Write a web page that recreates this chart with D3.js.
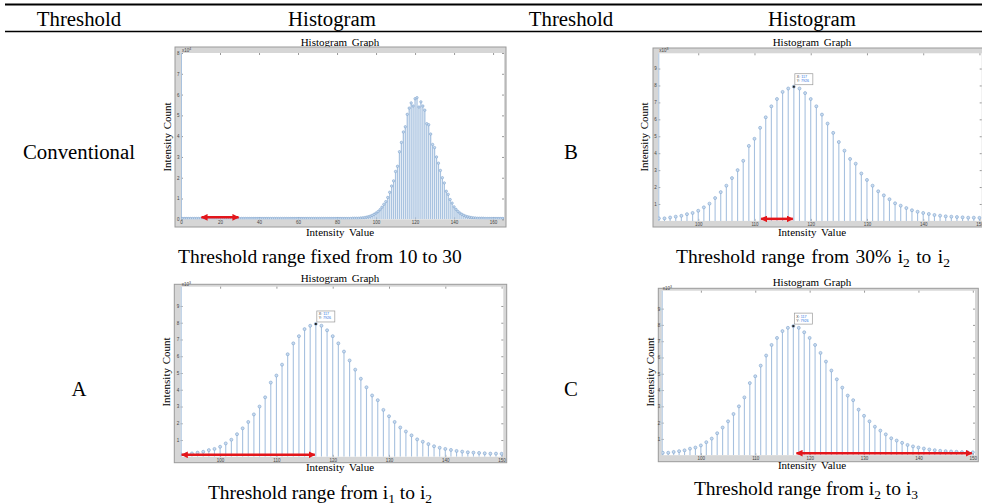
<!DOCTYPE html>
<html>
<head>
<meta charset="utf-8">
<script src="https://cdn.jsdelivr.net/npm/d3@7"></script>
<style>
  body { margin: 0; background: #fff; }
  svg { display: block; font-family: "Liberation Serif", "Times New Roman", serif; }
</style>
</head>
<body>
<svg width="982" height="504"></svg>
<script>
// table text
const headers = ['Threshold', 'Histogram', 'Threshold', 'Histogram'];
const rowLabels = ['Conventional', 'B', 'A', 'C'];

// full histogram (conventional), counts x10^4, bins 0..166
const convStart = 0;
const convCounts = [
  0.04, 0.04, 0.04, 0.04, 0.04, 0.04, 0.04, 0.04, 0.04, 0.04,
  0.04, 0.04, 0.04, 0.04, 0.04, 0.04, 0.04, 0.04, 0.04, 0.04,
  0.04, 0.04, 0.04, 0.04, 0.04, 0.04, 0.04, 0.04, 0.04, 0.04,
  0.04, 0.04, 0.04, 0.04, 0.04, 0.04, 0.04, 0.04, 0.04, 0.04,
  0.04, 0.04, 0.04, 0.04, 0.04, 0.04, 0.04, 0.04, 0.04, 0.04,
  0.04, 0.04, 0.04, 0.04, 0.04, 0.04, 0.04, 0.04, 0.04, 0.04,
  0.04, 0.04, 0.04, 0.04, 0.04, 0.04, 0.04, 0.04, 0.04, 0.04,
  0.04, 0.04, 0.04, 0.04, 0.04, 0.04, 0.04, 0.04, 0.04, 0.04,
  0.04, 0.04, 0.04, 0.04, 0.04, 0.04, 0.04, 0.04, 0.05, 0.05,
  0.05, 0.05, 0.06, 0.07, 0.08, 0.1, 0.12, 0.15, 0.19, 0.24,
  0.3, 0.37, 0.46, 0.58, 0.72, 0.85, 1.05, 1.3, 1.6, 1.85,
  2.3, 2.55, 3.25, 3.7, 4.2, 4.45, 5.05, 5.35, 5.6, 5.45,
  5.8, 5.85, 5.4, 5.65, 5.45, 5.25, 4.6, 4.55, 4.1, 3.6,
  3.45, 3.0, 2.7, 2.35, 2.0, 1.75, 1.35, 1.2, 0.95, 0.78,
  0.6, 0.48, 0.38, 0.3, 0.24, 0.19, 0.15, 0.12, 0.1, 0.08,
  0.07, 0.06, 0.05, 0.05, 0.05, 0.05, 0.04, 0.04, 0.04, 0.04,
  0.04, 0.04, 0.04, 0.04, 0.04, 0.04, 0.04
];
const convXTicks = [0, 20, 40, 60, 80, 100, 120, 140, 160];
const convYTicks = [0, 1, 2, 3, 4, 5, 6, 7, 8];

// zoomed histogram (A, B, C), counts x10^3, bins 93..150
const zoomStart = 93;
const zoomCounts = [
  0.15, 0.15, 0.2, 0.25, 0.3, 0.4, 0.47, 0.6, 0.8, 1.02,
  1.35, 1.7, 2.08, 2.53, 3.0, 3.55, 4.43, 4.85, 5.5, 6.12,
  6.77, 7.2, 7.62, 7.82, 7.93, 7.82, 7.55, 7.2, 6.77, 6.28,
  5.75, 5.2, 4.66, 4.15, 3.66, 3.38, 2.8, 2.42, 2.08, 1.75,
  1.51, 1.28, 1.04, 0.9, 0.76, 0.63, 0.54, 0.47, 0.41, 0.35,
  0.31, 0.27, 0.25, 0.23, 0.21, 0.19, 0.19, 0.18
];
const zoomXTicks = [100, 110, 120, 130, 140, 150];
const zoomYTicks = [1, 2, 3, 4, 5, 6, 7, 8, 9];
const tipX = 117;
const tipY = 7926;

// threshold ranges (red arrows)
const rangeConv = [10, 30];
const rangeB = [111, 117];
const rangeA = [93, 117];
const rangeC = [117.4, 150];

const captions = [
  [{ t: 'Threshold range fixed from 10 to 30' }],
  [{ t: 'Threshold range from 30% i' }, { t: '2', sub: true }, { t: ' to i' }, { t: '2', sub: true }],
  [{ t: 'Threshold range from i' }, { t: '1', sub: true }, { t: ' to i' }, { t: '2', sub: true }],
  [{ t: 'Threshold range from i' }, { t: '2', sub: true }, { t: ' to i' }, { t: '3', sub: true }],
];

const convData = convCounts.map((v, i) => ({ x: convStart + i, y: v }));
const zoomData = zoomCounts.map((v, i) => ({ x: zoomStart + i, y: v }));

const panels = [
  { id: 'p1', data: convData, xd: [0, 165.6], ymax: 8, xt: convXTicks, yt: convYTicks, exp: '4',
    frame: [175, 47, 331, 180], plot: [181, 53, 323, 166.3], range: rangeConv, dense: true,
    title: [340, 46], ylab: [171, 137], xlab: [340, 236] },
  { id: 'pB', data: zoomData, xd: [92.9, 150.4], ymax: 9.9, xt: zoomXTicks, yt: zoomYTicks, exp: '3',
    frame: [653, 48, 331, 179], plot: [658.3, 53.3, 323.4, 167.6], range: rangeB, tip: true,
    title: [812, 46], ylab: [648, 137], xlab: [812, 236] },
  { id: 'pA', data: zoomData, xd: [93.0, 150.3], ymax: 10.15, xt: zoomXTicks, yt: zoomYTicks, exp: '3',
    frame: [174.3, 284.3, 332.4, 178.4], plot: [180.7, 286.7, 322.6, 170.1], range: rangeA, tip: true,
    title: [340, 282], ylab: [170, 372], xlab: [340, 471] },
  { id: 'pC', data: zoomData, xd: [92.8, 150.4], ymax: 10.1, xt: zoomXTicks, yt: zoomYTicks, exp: '3',
    frame: [658.3, 288.3, 320, 173.4], plot: [661.7, 290.7, 313.3, 164.5], range: rangeC, tip: true,
    title: [812, 286], ylab: [654, 372], xlab: [812, 469] },
];

const svg = d3.select('svg');

const defs = svg.append('defs');
defs.append('marker')
  .attr('id', 'arrow')
  .attr('viewBox', '0 0 10 10')
  .attr('refX', 9)
  .attr('refY', 5)
  .attr('markerWidth', 2.6)
  .attr('markerHeight', 2.6)
  .attr('orient', 'auto-start-reverse')
  .append('path')
  .attr('d', 'M0,0 L10,5 L0,10 z')
  .attr('fill', '#e3161b');

// table rules
svg.append('line').attr('x1', 5).attr('x2', 982).attr('y1', 4.5).attr('y2', 4.5)
  .attr('stroke', '#000').attr('stroke-width', 2);
svg.append('line').attr('x1', 5).attr('x2', 982).attr('y1', 31.5).attr('y2', 31.5)
  .attr('stroke', '#000').attr('stroke-width', 1.5);

const headerX = [79, 332, 571, 812];
svg.selectAll('.hdr')
  .data(headers)
  .enter()
  .append('text')
  .classed('hdr', true)
  .attr('x', (d, i) => headerX[i])
  .attr('y', 26)
  .attr('text-anchor', 'middle')
  .attr('font-size', 20.8)
  .text((d) => d);

const labelPos = [[79, 159], [571, 159], [79, 396], [571, 396]];
svg.selectAll('.rowlab')
  .data(rowLabels)
  .enter()
  .append('text')
  .classed('rowlab', true)
  .attr('x', (d, i) => labelPos[i][0])
  .attr('y', (d, i) => labelPos[i][1])
  .attr('text-anchor', 'middle')
  .attr('font-size', 20.8)
  .text((d) => d);

const capPos = [[320, 263], [813, 263], [320, 499], [806, 495]];
const capSpacing = [0, 1.5, 0, 0];
captions.forEach((parts, i) => {
  const t = svg.append('text')
    .attr('x', capPos[i][0])
    .attr('y', capPos[i][1])
    .attr('text-anchor', 'middle')
    .attr('font-size', 19.5)
    .attr('word-spacing', capSpacing[i]);
  parts.forEach((p) => {
    const s = t.append('tspan').text(p.t);
    if (p.sub) s.attr('baseline-shift', '-25%').attr('font-size', 13.5);
  });
});

panels.forEach((p) => {
  const [fx, fy, fw, fh] = p.frame;
  const [px, py, pw, ph] = p.plot;
  const x = d3.scaleLinear().domain(p.xd).range([px, px + pw]);
  const y = d3.scaleLinear().domain([0, p.ymax]).range([py + ph, py]);
  const g = svg.append('g');

  g.append('text')
    .attr('x', p.title[0]).attr('y', p.title[1])
    .attr('text-anchor', 'middle').attr('font-size', 11)
    .attr('word-spacing', 2)
    .text('Histogram Graph');

  g.append('rect')
    .attr('x', fx).attr('y', fy).attr('width', fw).attr('height', fh)
    .attr('fill', '#d6d6d6').attr('stroke', '#9a9a9a').attr('stroke-width', 1);
  g.append('rect')
    .attr('x', px).attr('y', py).attr('width', pw).attr('height', ph)
    .attr('fill', '#fff');

  defs.append('clipPath').attr('id', 'clip-' + p.id)
    .append('rect').attr('x', px).attr('y', py).attr('width', pw).attr('height', ph);

  const axisStyle = (sel) => {
    sel.select('.domain').remove();
    sel.selectAll('line').attr('stroke', '#555').attr('stroke-width', 0.6);
    sel.selectAll('text').attr('fill', '#444').attr('font-size', 4.5)
      .attr('font-family', 'Liberation Sans, Arial, sans-serif');
  };
  g.append('g').attr('transform', `translate(0,${py + ph})`)
    .call(d3.axisBottom(x).tickValues(p.xt).tickSize(-2).tickPadding(2))
    .call(axisStyle);
  g.append('g').attr('transform', `translate(0,${py})`)
    .call(d3.axisTop(x).tickValues(p.xt).tickSize(-2).tickFormat(''))
    .call(axisStyle);
  g.append('g').attr('transform', `translate(${px},0)`)
    .call(d3.axisLeft(y).tickValues(p.yt).tickSize(-2).tickPadding(1.5))
    .call(axisStyle);
  g.append('g').attr('transform', `translate(${px + pw},0)`)
    .call(d3.axisRight(y).tickValues(p.yt).tickSize(-2).tickFormat(''))
    .call(axisStyle);

  const ex = g.append('text')
    .attr('x', px + 1).attr('y', py - 1)
    .attr('font-size', 4.5).attr('fill', '#444')
    .attr('font-family', 'Liberation Sans, Arial, sans-serif')
    .text('x10');
  ex.append('tspan').attr('baseline-shift', '40%').attr('font-size', 3.5).text(p.exp);

  // left axis line of the plot box
  g.append('line')
    .attr('x1', px + 0.5).attr('x2', px + 0.5).attr('y1', py).attr('y2', py + ph)
    .attr('stroke', '#a9c2de').attr('stroke-width', 1);

  const plot = g.append('g').attr('clip-path', `url(#clip-${p.id})`);

  plot.selectAll('.stem')
    .data(p.data)
    .enter()
    .append('line')
    .classed('stem', true)
    .attr('x1', (d) => x(d.x))
    .attr('x2', (d) => x(d.x))
    .attr('y1', y(0))
    .attr('y2', (d) => y(d.y))
    .attr('stroke', p.dense ? '#a9c3e0' : '#a7c1df')
    .attr('stroke-width', p.dense ? 1.3 : 1.1);

  plot.selectAll('.mark')
    .data(p.data)
    .enter()
    .append('circle')
    .classed('mark', true)
    .attr('cx', (d) => x(d.x))
    .attr('cy', (d) => y(d.y))
    .attr('r', p.dense ? 1.2 : 1.5)
    .attr('fill', '#c9dbef')
    .attr('stroke', '#7ea3cc')
    .attr('stroke-width', 0.6);

  if (p.tip) {
    const tx = x(tipX);
    const ty = y(tipY / 1000);
    g.append('rect').attr('x', tx - 1).attr('y', ty - 1).attr('width', 2).attr('height', 2)
      .attr('fill', '#222');
    g.append('rect').attr('x', tx + 1).attr('y', ty - 13).attr('width', 18).attr('height', 11)
      .attr('fill', '#fff').attr('stroke', '#9a9a9a').attr('stroke-width', 0.7);
    const tt = g.append('text').attr('font-size', 3.6)
      .attr('font-family', 'Liberation Sans, Arial, sans-serif');
    tt.append('tspan').attr('x', tx + 3).attr('y', ty - 8.5).attr('fill', '#333').text('X: ')
      .append('tspan').attr('fill', '#1f6fe0').text(tipX);
    tt.append('tspan').attr('x', tx + 3).attr('y', ty - 4.5).attr('fill', '#333').text('Y: ')
      .append('tspan').attr('fill', '#1f6fe0').text(tipY);
  }

  // threshold range arrow
  g.append('line')
    .attr('x1', x(p.range[0]) + 1).attr('x2', x(p.range[1]) - 1)
    .attr('y1', y(0) - 2).attr('y2', y(0) - 2)
    .attr('stroke', '#e3161b').attr('stroke-width', 2.6)
    .attr('marker-start', 'url(#arrow)')
    .attr('marker-end', 'url(#arrow)');

  g.append('text')
    .attr('transform', `translate(${p.ylab[0]},${p.ylab[1]}) rotate(-90)`)
    .attr('text-anchor', 'middle').attr('font-size', 11).attr('word-spacing', 1)
    .text('Intensity Count');
  g.append('text')
    .attr('x', p.xlab[0]).attr('y', p.xlab[1])
    .attr('text-anchor', 'middle').attr('font-size', 11).attr('word-spacing', 2)
    .text('Intensity Value');
});
</script>
</body>
</html>
